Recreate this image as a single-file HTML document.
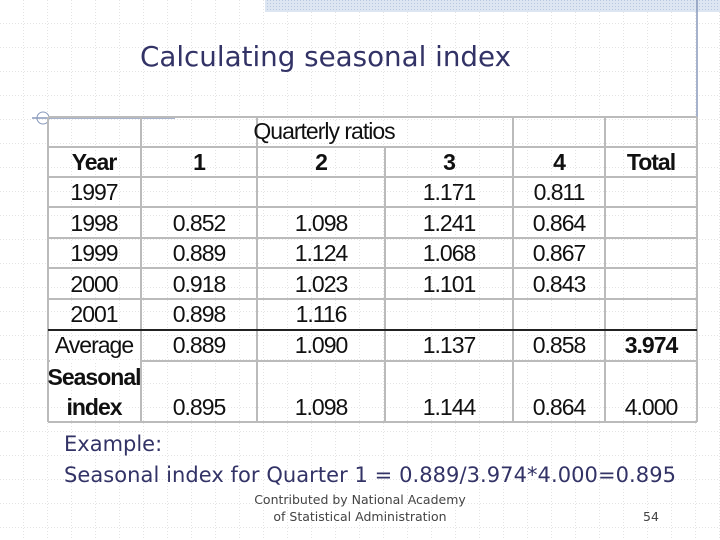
<!DOCTYPE html>
<html><head><meta charset="utf-8"><style>
html,body{margin:0;padding:0}
body{width:720px;height:540px;overflow:hidden;background:#fff;position:relative;font-family:"Liberation Sans",sans-serif}
svg{position:absolute;left:0;top:0}
.t{font-family:"Liberation Sans",sans-serif;font-size:23px;fill:#111;text-anchor:middle;letter-spacing:-1px}
.b{font-weight:bold}
</style></head><body>
<svg width="720" height="540">
<defs>
<pattern id="grid" width="24" height="24" patternUnits="userSpaceOnUse">
<path d="M24 0V24M0 24H24" stroke="#c8c8c8" stroke-width="1" stroke-dasharray="1,2" fill="none"/>
</pattern>
<pattern id="hatch" width="3" height="3" patternUnits="userSpaceOnUse">
<rect width="3" height="3" fill="#dde6f2"/><rect width="1" height="1" fill="#b8c8e0"/>
</pattern>
</defs>
<rect width="720" height="540" fill="url(#grid)"/>
<rect x="265" y="0" width="455" height="12" fill="url(#hatch)"/>
<line x1="697" y1="0" x2="697" y2="186" stroke="#8899bb" stroke-width="1.5"/>
<line x1="32" y1="118" x2="175" y2="118" stroke="#8899bb" stroke-width="1.5"/>
<circle cx="43" cy="118" r="6" fill="none" stroke="#8899bb"/>
<text x="140" y="66" font-size="28" fill="#333366" textLength="371" lengthAdjust="spacingAndGlyphs" style="font-family:'DejaVu Sans',sans-serif">Calculating seasonal index</text>

<g stroke="#bbbbbb" stroke-width="2">
<line x1="48" y1="117" x2="697" y2="117"/>
<line x1="48" y1="147" x2="697" y2="147"/>
<line x1="48" y1="177" x2="697" y2="177"/>
<line x1="48" y1="207" x2="697" y2="207"/>
<line x1="48" y1="238" x2="697" y2="238"/>
<line x1="48" y1="268" x2="697" y2="268"/>
<line x1="48" y1="299" x2="697" y2="299"/>
<line x1="48" y1="361" x2="697" y2="361"/>
<line x1="48" y1="422" x2="697" y2="422"/>
<line x1="48" y1="117" x2="48" y2="422"/>
<line x1="141" y1="117" x2="141" y2="422"/>
<line x1="257" y1="117" x2="257" y2="422"/>
<line x1="385" y1="147" x2="385" y2="422"/>
<line x1="513" y1="117" x2="513" y2="422"/>
<line x1="605" y1="117" x2="605" y2="422"/>
<line x1="697" y1="117" x2="697" y2="422"/>
<line x1="48" y1="330" x2="697" y2="330" stroke="#222"/>
</g>
<line x1="50" y1="361" x2="140" y2="361" stroke="#fff" stroke-width="2"/>

<g>
<text class="t" x="324" y="139">Quarterly ratios</text>
<text class="t b" x="94" y="170">Year</text><text class="t b" x="199" y="170">1</text><text class="t b" x="321" y="170">2</text><text class="t b" x="449" y="170">3</text><text class="t b" x="559" y="170">4</text><text class="t b" x="651" y="170">Total</text>
<text class="t" x="94" y="200">1997</text><text class="t" x="449" y="200">1.171</text><text class="t" x="559" y="200">0.811</text>
<text class="t" x="94" y="231">1998</text><text class="t" x="199" y="231">0.852</text><text class="t" x="321" y="231">1.098</text><text class="t" x="449" y="231">1.241</text><text class="t" x="559" y="231">0.864</text>
<text class="t" x="94" y="261">1999</text><text class="t" x="199" y="261">0.889</text><text class="t" x="321" y="261">1.124</text><text class="t" x="449" y="261">1.068</text><text class="t" x="559" y="261">0.867</text>
<text class="t" x="94" y="292">2000</text><text class="t" x="199" y="292">0.918</text><text class="t" x="321" y="292">1.023</text><text class="t" x="449" y="292">1.101</text><text class="t" x="559" y="292">0.843</text>
<text class="t" x="94" y="322">2001</text><text class="t" x="199" y="322">0.898</text><text class="t" x="321" y="322">1.116</text>
<text class="t" x="94" y="353">Average</text><text class="t" x="199" y="353">0.889</text><text class="t" x="321" y="353">1.090</text><text class="t" x="449" y="353">1.137</text><text class="t" x="559" y="353">0.858</text><text class="t b" x="651" y="353">3.974</text>
<text class="t b" x="94" y="385">Seasonal</text>
<text class="t b" x="94" y="415">index</text><text class="t" x="199" y="415">0.895</text><text class="t" x="321" y="415">1.098</text><text class="t" x="449" y="415">1.144</text><text class="t" x="559" y="415">0.864</text><text class="t" x="651" y="415">4.000</text>
</g>

<text x="64" y="451" font-size="21" fill="#333366" style="font-family:'DejaVu Sans',sans-serif">Example:</text>
<text x="64" y="482" font-size="21" fill="#333366" style="font-family:'DejaVu Sans',sans-serif" textLength="612">Seasonal index for Quarter 1 = 0.889/3.974*4.000=0.895</text>
<text x="360" y="504" font-size="12.5" fill="#444" text-anchor="middle" style="font-family:'DejaVu Sans',sans-serif">Contributed by National Academy</text>
<text x="360" y="521" font-size="12.5" fill="#444" text-anchor="middle" style="font-family:'DejaVu Sans',sans-serif">of Statistical Administration</text>
<text x="651" y="521" font-size="12.5" fill="#444" text-anchor="middle" style="font-family:'DejaVu Sans',sans-serif">54</text>
</svg>
</body></html>
